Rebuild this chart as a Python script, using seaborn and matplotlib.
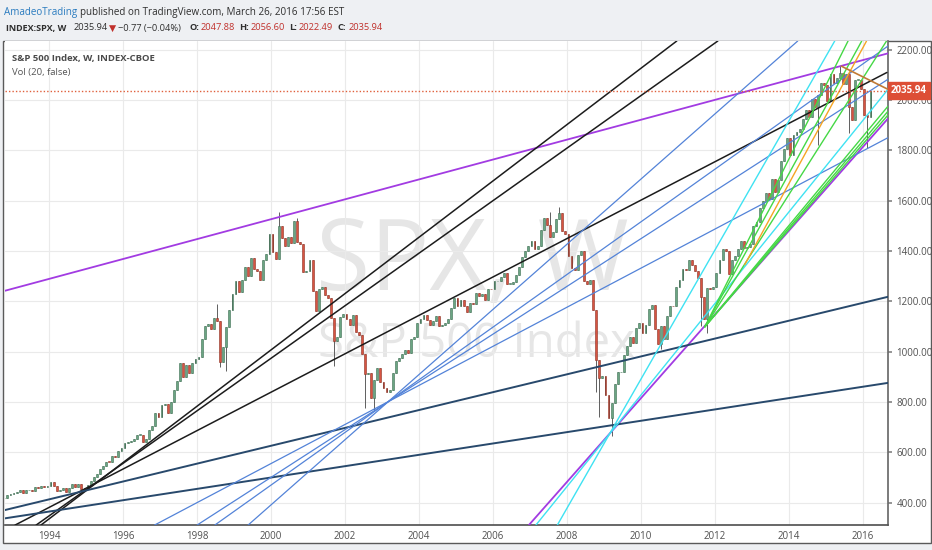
import matplotlib
matplotlib.use("Agg")
import matplotlib.pyplot as plt
from matplotlib.patches import Rectangle
import numpy as np
import pandas as pd
import seaborn as sns

W, H = 932, 550

# --- S&P 500 monthly closes, Oct 1992 .. Mar 2016 ---
START_MONTH = "1992-10"
monthly_close = [
    418.7, 431.4, 435.7,
    438.8, 443.4, 451.7, 440.2, 450.2, 450.5, 448.1, 463.6, 458.9, 467.8, 461.8, 466.5,
    481.6, 467.1, 445.8, 451.0, 456.5, 444.3, 458.3, 475.5, 462.7, 472.4, 453.7, 459.3,
    470.4, 487.4, 500.7, 514.7, 533.4, 544.8, 562.1, 561.9, 584.4, 581.5, 605.4, 615.9,
    636.0, 640.4, 645.5, 654.2, 669.1, 670.6, 639.9, 652.0, 687.3, 705.3, 757.0, 740.7,
    786.2, 790.8, 757.1, 801.3, 848.3, 885.1, 954.3, 899.5, 947.3, 914.6, 955.4, 970.4,
    980.3, 1049.3, 1101.8, 1111.8, 1090.8, 1133.8, 1120.7, 957.3, 1017.0, 1098.7, 1163.6, 1229.2,
    1279.6, 1238.3, 1286.4, 1335.2, 1301.8, 1372.7, 1328.7, 1320.4, 1282.7, 1362.9, 1389.0, 1469.3,
    1394.5, 1366.4, 1498.6, 1452.4, 1420.6, 1454.6, 1430.8, 1517.7, 1436.5, 1429.4, 1315.2, 1320.3,
    1366.0, 1239.9, 1160.3, 1249.5, 1255.8, 1224.4, 1211.2, 1133.6, 1040.9, 1059.8, 1139.5, 1148.1,
    1130.2, 1106.7, 1147.4, 1076.9, 1067.1, 989.8, 911.6, 916.1, 815.3, 885.8, 936.3, 879.8,
    855.7, 841.2, 848.2, 916.9, 963.6, 974.5, 990.3, 1008.0, 996.0, 1050.7, 1058.2, 1111.9,
    1131.1, 1144.9, 1126.2, 1107.3, 1120.7, 1140.8, 1101.7, 1104.2, 1114.6, 1130.2, 1173.8, 1211.9,
    1181.3, 1203.6, 1180.6, 1156.9, 1191.5, 1191.3, 1234.2, 1220.3, 1228.8, 1207.0, 1249.5, 1248.3,
    1280.1, 1280.7, 1294.9, 1310.6, 1270.1, 1270.2, 1276.7, 1303.8, 1335.9, 1377.9, 1400.6, 1418.3,
    1438.2, 1406.8, 1420.9, 1482.4, 1530.6, 1503.4, 1455.3, 1474.0, 1526.8, 1549.4, 1481.1, 1468.4,
    1378.6, 1330.6, 1322.7, 1385.6, 1400.4, 1280.0, 1267.4, 1282.8, 1166.4, 968.8, 896.2, 903.3,
    825.9, 735.1, 797.9, 872.8, 919.1, 919.3, 987.5, 1020.6, 1057.1, 1036.2, 1095.6, 1115.1,
    1073.9, 1104.5, 1169.4, 1186.7, 1089.4, 1030.7, 1101.6, 1049.3, 1141.2, 1183.3, 1180.6, 1257.6,
    1286.1, 1327.2, 1325.8, 1363.6, 1345.2, 1320.6, 1292.3, 1218.9, 1131.4, 1253.3, 1247.0, 1257.6,
    1312.4, 1365.7, 1408.5, 1397.9, 1310.3, 1362.2, 1379.3, 1406.6, 1440.7, 1412.2, 1416.2, 1426.2,
    1498.1, 1514.7, 1569.2, 1597.6, 1630.7, 1606.3, 1685.7, 1633.0, 1681.6, 1756.5, 1805.8, 1848.4,
    1782.6, 1859.5, 1872.3, 1884.0, 1923.6, 1960.2, 1930.7, 2003.4, 1972.3, 2018.1, 2067.6, 2058.9,
    1995.0, 2104.5, 2067.9, 2085.5, 2107.4, 2063.1, 2103.8, 1972.2, 1920.0, 2079.4, 2080.4, 2043.9,
    1940.2, 1932.2, 2035.9,
]

# notable wick extremes
wick_low_months = ["1998-08", "1998-10", "2001-09", "2002-07", "2002-10", "2008-10",
                   "2008-11", "2009-03", "2010-07", "2011-08", "2011-10", "2014-10",
                   "2015-08", "2016-02"]
wick_low_values = [940, 923, 945, 776, 768, 840, 741, 667, 1011, 1101, 1074, 1821, 1867, 1810]
wick_high_months = ["1998-07", "2000-03", "2000-09", "2007-07", "2007-10", "2015-05"]
wick_high_values = [1190, 1553, 1530, 1556, 1576, 2135]

# --- drawn trend lines: start (year, price) -> end (year, price) ---
line_group = ["purple", "black", "black", "black", "navy", "navy",
              "blue", "blue", "blue", "blue", "cyan", "cyan", "purple",
              "green", "green", "green", "green", "green", "green",
              "orange", "brown"]
line_x0 = [1992.81, 1993.78, 1993.65, 1993.08, 1992.81, 1992.81,
           1999.38, 1998.48, 1998.00, 1996.85, 2007.74, 2007.16, 2006.97,
           2011.73, 2011.73, 2011.73, 2011.73, 2011.73, 2011.73,
           2012.81, 2015.42]
line_y0 = [1242, 311, 311, 311, 371, 338,
           311, 311, 311, 311, 311, 311, 311,
           1099, 1099, 1099, 1099, 1099, 1099,
           1346, 2134]
line_x1 = [2016.68, 2010.97, 2012.08, 2016.65, 2016.68, 2016.68,
           2014.24, 2016.68, 2016.68, 2016.68, 2015.24, 2016.68, 2016.68,
           2015.60, 2015.97, 2016.64, 2016.68, 2016.68, 2016.68,
           2016.10, 2016.68]
line_y1 = [2185, 2234, 2234, 2109, 1218, 876,
           2234, 2214, 2082, 1850, 2234, 2042, 1926,
           2234, 2234, 2234, 1975, 1955, 1940,
           2234, 2042]

group_colour = {"purple": "#a23be2", "black": "#1c1c1c", "navy": "#28496c",
                "blue": "#5383d8", "cyan": "#3fe2f2", "green": "#45d845",
                "orange": "#f5a524", "brown": "#c07a35"}
group_width = {"purple": 1.3, "black": 1.1, "navy": 1.4, "blue": 0.9,
               "cyan": 1.0, "green": 1.0, "orange": 1.0, "brown": 1.2}

LAST = 2035.94
UP, UP_EDGE = "#6ba583", "#3d6e52"
DOWN, DOWN_EDGE = "#d75442", "#8a2f22"
FONT = ["Open Sans", "DejaVu Sans"]


def main():
    sns.set_theme(style="white")
    plt.rcParams["font.family"] = FONT

    dates = pd.date_range(START_MONTH, periods=len(monthly_close), freq="MS")
    px = pd.DataFrame({"date": dates, "close": monthly_close})
    px["t"] = px["date"].dt.year + (px["date"].dt.month - 1) / 12 + 1 / 24
    px["open"] = px["close"].shift(1).fillna(px["close"].iloc[0])
    px["hi"] = px[["open", "close"]].max(axis=1)
    px["lo"] = px[["open", "close"]].min(axis=1)
    key = px["date"].dt.strftime("%Y-%m")
    for m, v in zip(wick_low_months, wick_low_values):
        px.loc[key == m, "lo"] = v
    for m, v in zip(wick_high_months, wick_high_values):
        px.loc[key == m, "hi"] = v

    fig = plt.figure(figsize=(W / 100, H / 100), dpi=100, facecolor="#eef0f3")
    # white chart panel behind the axes
    fig.patches.append(Rectangle((3 / W, 1 - 543 / H), 928 / W, 502 / H,
                                 transform=fig.transFigure, facecolor="white",
                                 edgecolor="#5a5a5a", lw=1, zorder=-5))
    ax = fig.add_axes([5 / W, 1 - 525 / H, 883 / W, 484 / H])
    ax.set_zorder(1)
    ax.set_facecolor("white")

    # watermark
    ax.text(0.352, 0.4855, "SPX, W", transform=ax.transAxes, fontsize=71,
            color="#e6e6e6", ha="left", va="baseline", zorder=0.5)
    ax.text(0.354, 0.347, "S&P 500 Index", transform=ax.transAxes, fontsize=34,
            color="#e6e6e6", ha="left", va="baseline", zorder=0.5)

    # candles
    up = px["close"] >= px["open"]
    body = np.where(up, UP, DOWN)
    edge = np.where(up, UP_EDGE, DOWN_EDGE)
    ax.vlines(px["t"], px["lo"], px["hi"], color="#5e5e5e", lw=0.7, zorder=2)
    ax.bar(px["t"], (px["close"] - px["open"]).abs().clip(lower=2),
           bottom=px[["open", "close"]].min(axis=1), width=0.05,
           color=body, edgecolor=edge, lw=0.4, zorder=2.5)

    # trend lines
    rows = []
    for i, g in enumerate(line_group):
        rows.append((i, g, line_x0[i], line_y0[i]))
        rows.append((i, g, line_x1[i], line_y1[i]))
    lines = pd.DataFrame(rows, columns=["line", "group", "year", "price"])
    for g, sub in lines.groupby("group", sort=False):
        sns.lineplot(data=sub, x="year", y="price", units="line", estimator=None,
                     sort=False, color=group_colour[g], lw=group_width[g],
                     ax=ax, legend=False, zorder=3)

    ax.axhline(LAST, color="#e0603c", ls=(0, (1, 1.5)), lw=1, zorder=3.5)

    ax.set_xlim(1992.81, 2016.68)
    ax.set_ylim(311.5, 2234)
    ax.set_xticks(np.arange(1994, 2017, 2))
    ax.set_xticklabels([str(y) for y in range(1994, 2017, 2)])
    ax.set_yticks(np.arange(400, 2201, 200))
    ax.set_yticklabels([f"{v:.2f}" for v in range(400, 2201, 200)])
    ax.yaxis.tick_right()
    ax.tick_params(axis="y", length=3, color="#888888", pad=3, labelsize=7,
                   labelcolor="#505050")
    ax.tick_params(axis="x", length=0, pad=4, labelsize=7, labelcolor="#505050")
    ax.set_xlabel("")
    ax.set_ylabel("")
    ax.grid(True, color="#eaeaea", lw=0.8, zorder=0)
    ax.set_axisbelow(True)
    for s in ("left", "top"):
        ax.spines[s].set_visible(False)
    ax.spines["right"].set_color("#6b6b6b")
    ax.spines["bottom"].set_color("#555555")

    # last price tag
    ax.annotate(f"{LAST:.2f}", xy=(1.0, LAST), xycoords=("axes fraction", "data"),
                xytext=(2, 0), textcoords="offset points", ha="left", va="center",
                fontsize=7, fontweight="bold", color="white", zorder=6,
                bbox=dict(boxstyle="square,pad=0.3", fc="#dd4e35", ec="#dd4e35"),
                annotation_clip=False)

    # panel legend
    ax.text(7 / 883, 1 - 17 / 484, "S&P 500 Index, W, INDEX-CBOE", transform=ax.transAxes,
            fontsize=6.8, fontweight="bold", color="#4a4a4a", va="center")
    ax.text(7 / 883, 1 - 32 / 484, "Vol (20, false)", transform=ax.transAxes,
            fontsize=6.8, color="#555555", va="center")

    # header lines: pieces placed at the columns seen in the original
    dark, red = "#2f2f2f", "#c0302b"
    header = [
        ("AmadeoTrading", "#2a7bbf", "normal", 4, 12, 7.1),
        ("published on TradingView.com, March 26, 2016 17:56 EST", dark, "normal", 80, 12, 7.1),
        ("INDEX:SPX, W", dark, "bold", 6, 28, 6.5),
        ("2035.94", dark, "normal", 74, 28, 6.7),
        ("▼", red, "normal", 109, 28, 6.7),
        ("−0.77 (−0.04%)", dark, "normal", 118, 28, 6.7),
        ("O:", dark, "bold", 189, 28, 6.7),
        ("2047.88", red, "normal", 201, 28, 6.7),
        ("H:", dark, "bold", 239, 28, 6.7),
        ("2056.60", red, "normal", 251, 28, 6.7),
        ("L:", dark, "bold", 289, 28, 6.7),
        ("2022.49", red, "normal", 299, 28, 6.7),
        ("C:", dark, "bold", 337, 28, 6.7),
        ("2035.94", red, "normal", 349, 28, 6.7),
    ]
    for s, col, wt, x, y, size in header:
        fig.text(x / W, 1 - y / H, s, color=col, fontsize=size, fontweight=wt,
                 ha="left", va="center")

    fig.savefig("out.png", dpi=100, facecolor=fig.get_facecolor())


if __name__ == "__main__":
    main()
